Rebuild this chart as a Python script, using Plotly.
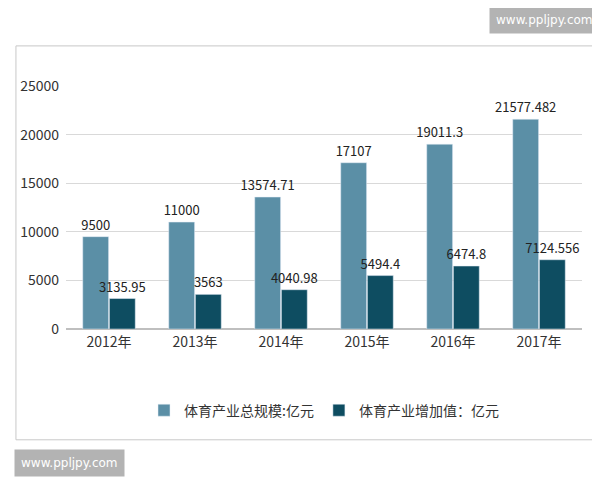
import plotly.graph_objects as go

years = ["2012年", "2013年", "2014年", "2015年", "2016年", "2017年"]
total_scale = [9500, 11000, 13574.71, 17107, 19011.3, 21577.482]
added_value = [3135.95, 3563, 4040.98, 5494.4, 6474.8, 7124.556]
total_labels = ["9500", "11000", "13574.71", "17107", "19011.3", "21577.482"]
added_labels = ["3135.95", "3563", "4040.98", "5494.4", "6474.8", "7124.556"]

font = "Noto Sans CJK SC"

fig = go.Figure()
fig.add_trace(go.Bar(
    x=years, y=total_scale, name="体育产业总规模:亿元",
    marker_color="#5b8fa6", text=total_labels, textposition="outside",
    textfont=dict(size=13, color="#222"), cliponaxis=False,
))
fig.add_trace(go.Bar(
    x=years, y=added_value, name="体育产业增加值：亿元",
    marker_color="#0e4d61", text=added_labels, textposition="outside",
    textfont=dict(size=13, color="#222"), cliponaxis=False,
))

fig.update_layout(
    width=600, height=480,
    barmode="group", bargap=0.38, bargroupgap=0.03,
    uniformtext=dict(minsize=13, mode="show"),
    paper_bgcolor="white", plot_bgcolor="white",
    font=dict(family=font, size=14, color="#333"),
    margin=dict(l=58, r=26, t=78, b=159),
    yaxis=dict(range=[0, 25000], dtick=5000, tickformat="d", showgrid=True, gridcolor="#d9d9d9",
               zeroline=True, zerolinecolor="#bfbfbf", ticks="", ticklabelstandoff=6),
    xaxis=dict(showline=True, linecolor="#bfbfbf", ticks=""),
    legend=dict(orientation="h", x=0.5, xanchor="center", y=-0.27, yanchor="top",
                font=dict(size=14)),
    shapes=[dict(type="rect", xref="paper", yref="paper",
                 x0=-0.097, x1=1.03, y0=-0.456, y1=1.165,
                 line=dict(color="#c8c8c8", width=1))],
    annotations=[
        dict(text="www.ppljpy.com", xref="paper", yref="paper", x=1.035, y=1.27,
             xanchor="right", yanchor="middle", showarrow=False,
             bgcolor="#b3b3b3", font=dict(color="white", size=12, family="DejaVu Sans"),
             borderpad=6),
        dict(text="www.ppljpy.com", xref="paper", yref="paper", x=-0.1, y=-0.55,
             xanchor="left", yanchor="middle", showarrow=False,
             bgcolor="#b3b3b3", font=dict(color="white", size=12, family="DejaVu Sans"),
             borderpad=6),
    ],
)

fig.write_html("out.html")
